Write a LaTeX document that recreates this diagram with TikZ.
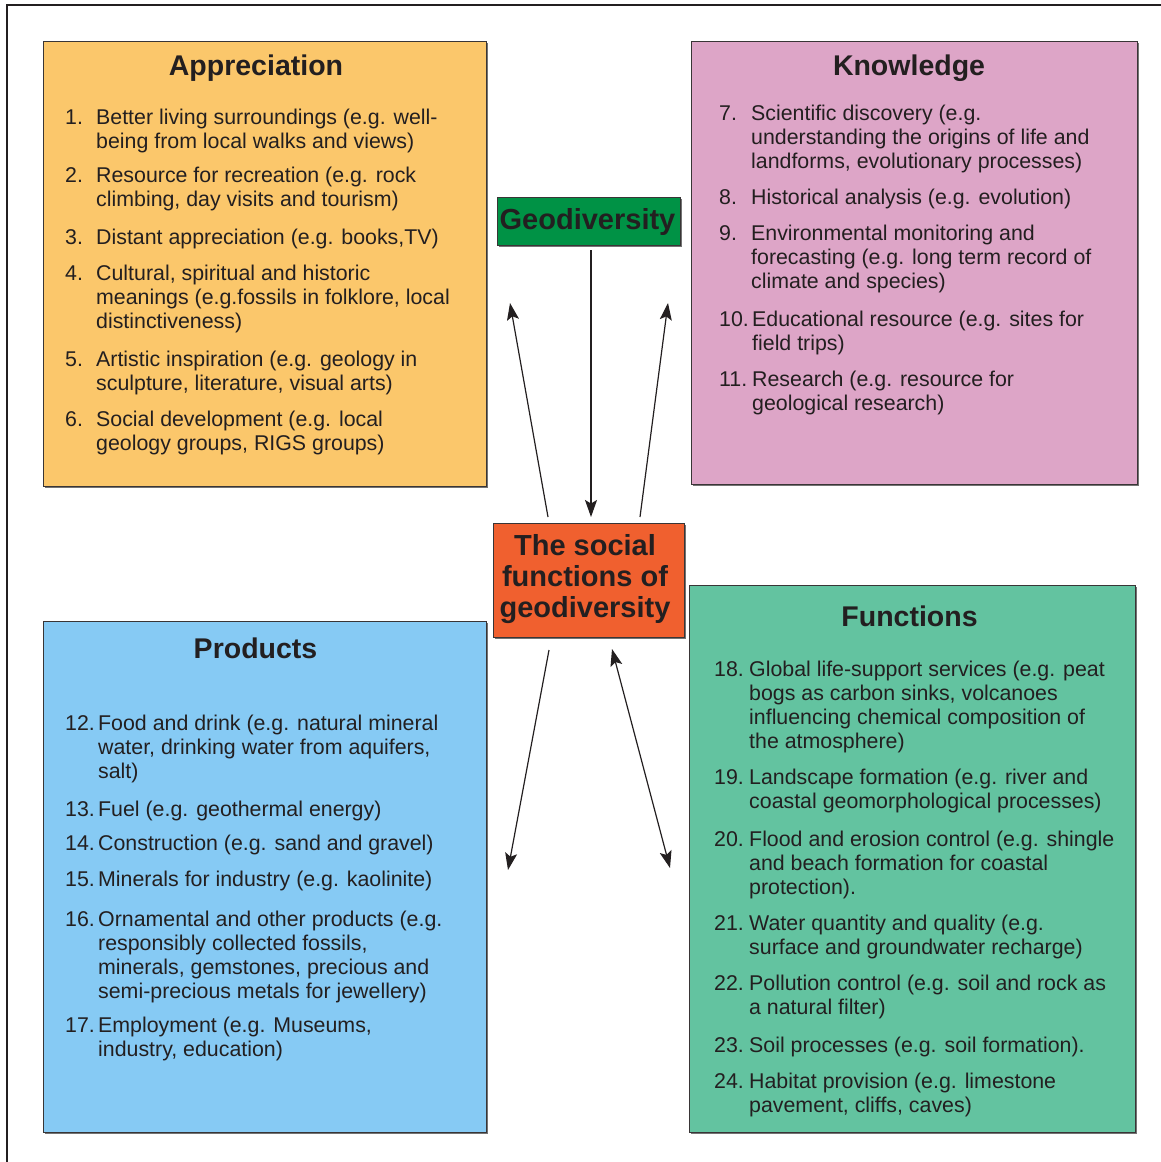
\documentclass[tikz,border=0pt]{standalone}
\usepackage{fontspec}
\setmainfont{Liberation Sans}
\usetikzlibrary{arrows.meta}
\definecolor{cappr}{RGB}{251,199,107}
\definecolor{cknow}{RGB}{221,165,199}
\definecolor{cprod}{RGB}{134,202,244}
\definecolor{cfunc}{RGB}{99,195,160}
\definecolor{cgeo}{RGB}{0,146,69}
\definecolor{csoc}{RGB}{240,96,47}
\definecolor{ink}{RGB}{35,31,32}
\newcommand\bodyf{\fontsize{21.35}{24.3}\selectfont}
\newcommand\titlef{\fontsize{28.5}{32}\selectfont\bfseries}
\newcommand\centf{\fontsize{29}{31}\selectfont\bfseries}
\newcommand\ml[1]{\vtop{\halign{##\hfil\cr#1\crcr}}}
\newcommand\mcent[1]{\vtop{\halign{\hfil##\hfil\cr#1\crcr}}}
\begin{document}
\begin{tikzpicture}[x=1pt,y=-1pt,
  >={Stealth[length=17pt,width=12pt,inset=3.5pt]},
  panel/.style={draw=ink!90, line width=0.8pt, anchor=north west, inner sep=0pt},
  shadow/.style={fill=black!55, anchor=north west, inner sep=0pt},
  ttl/.style={anchor=base, inner sep=0pt, font=\titlef, text=ink},
  num/.style={anchor=base west, inner sep=0pt, font=\bodyf, text=ink},
  itxt/.style={anchor=base west, inner sep=0pt, font=\bodyf, text=ink},
  arr/.style={draw=ink, line width=1.2pt, ->},
  darr/.style={draw=ink, line width=1.2pt, <->}
]
\useasboundingbox (0,0) rectangle (1161,1162);
% frame
\coordinate (fa) at (7,1162);
\coordinate (fb) at (7,5);
\coordinate (fc) at (1161,5);
\draw[ink, line width=1.3pt] (fa) -- (fb) -- (fc);

% shadows
\node[shadow, minimum width=443pt, minimum height=445pt] (apps) at (45,43) {};
\node[shadow, minimum width=446pt, minimum height=443pt] (knos) at (693,43) {};
\node[shadow, minimum width=443pt, minimum height=511pt] (pros) at (45,623) {};
\node[shadow, minimum width=446pt, minimum height=547pt] (funs) at (691,587) {};
\node[shadow, minimum width=183pt, minimum height=48pt] (geos) at (499,199) {};
\node[shadow, minimum width=191pt, minimum height=114pt] (socs) at (495,525) {};

% panels
\node[panel, fill=cappr, minimum width=443pt, minimum height=445pt] (appr) at (43,41) {};
\node[panel, fill=cknow, minimum width=446pt, minimum height=443pt] (know) at (691,41) {};
\node[panel, fill=cprod, minimum width=443pt, minimum height=511pt] (prod) at (43,621) {};
\node[panel, fill=cfunc, minimum width=446pt, minimum height=547pt] (func) at (689,585) {};
\node[panel, fill=cgeo, minimum width=183pt, minimum height=48pt] (geo) at (497,197) {};
\node[panel, fill=csoc, minimum width=191pt, minimum height=114pt] (soc) at (493,523) {};

% central texts
\node[anchor=base, inner sep=0pt, font=\centf, text=ink] (geot) at (587.5,229) {Geodiversity};
\node[anchor=base, inner sep=0pt, font=\centf, text=ink] (soct) at (585,555) {\mcent{The social\cr functions of\cr geodiversity}};

% titles
\node[ttl] (applt) at (256,75) {Appreciation};
\node[ttl] (knowt) at (909,75) {Knowledge};
\node[ttl] (prodt) at (255.5,658) {Products};
\node[ttl] (funct) at (909.5,626) {Functions};

% Appreciation items
\node[num] (n1) at (65,124) {1.};
\node[itxt] (t1) at (96,124) {\ml{Better living surroundings (e.g. well-\cr being from local walks and views)}};
\node[num] (n2) at (65,182) {2.};
\node[itxt] (t2) at (96,182) {\ml{Resource for recreation (e.g. rock\cr climbing, day visits and tourism)}};
\node[num] (n3) at (65,244) {3.};
\node[itxt] (t3) at (96,244) {Distant appreciation (e.g. books,TV)};
\node[num] (n4) at (65,280) {4.};
\node[itxt] (t4) at (96,280) {\ml{Cultural, spiritual and historic\cr meanings (e.g.fossils in folklore, local\cr distinctiveness)}};
\node[num] (n5) at (65,366) {5.};
\node[itxt] (t5) at (96,366) {\ml{Artistic inspiration (e.g. geology in\cr sculpture, literature, visual arts)}};
\node[num] (n6) at (65,426) {6.};
\node[itxt] (t6) at (96,426) {\ml{Social development (e.g. local\cr geology groups, RIGS groups)}};

% Knowledge items
\node[num] (n7) at (719,120) {7.};
\node[itxt] (t7) at (751,120) {\ml{Scientific discovery (e.g.\cr understanding the origins of life and\cr landforms, evolutionary processes)}};
\node[num] (n8) at (719,204) {8.};
\node[itxt] (t8) at (751,204) {Historical analysis (e.g. evolution)};
\node[num] (n9) at (719,240) {9.};
\node[itxt] (t9) at (751,240) {\ml{Environmental monitoring and\cr forecasting (e.g. long term record of\cr climate and species)}};
\node[num] (n10) at (719,326) {10.};
\node[itxt] (t10) at (752,326) {\ml{Educational resource (e.g. sites for\cr field trips)}};
\node[num] (n11) at (719,386) {11.};
\node[itxt] (t11) at (752,386) {\ml{Research (e.g. resource for\cr geological research)}};

% Products items
\node[num] (n12) at (65,730) {12.};
\node[itxt] (t12) at (98,730) {\ml{Food and drink (e.g. natural mineral\cr water, drinking water from aquifers,\cr salt)}};
\node[num] (n13) at (65,816) {13.};
\node[itxt] (t13) at (98,816) {Fuel (e.g. geothermal energy)};
\node[num] (n14) at (65,850) {14.};
\node[itxt] (t14) at (98,850) {Construction (e.g. sand and gravel)};
\node[num] (n15) at (65,886) {15.};
\node[itxt] (t15) at (98,886) {Minerals for industry (e.g. kaolinite)};
\node[num] (n16) at (65,926) {16.};
\node[itxt] (t16) at (98,926) {\ml{Ornamental and other products (e.g.\cr responsibly collected fossils,\cr minerals, gemstones, precious and\cr semi-precious metals for jewellery)}};
\node[num] (n17) at (65,1032) {17.};
\node[itxt] (t17) at (98,1032) {\ml{Employment (e.g. Museums,\cr industry, education)}};

% Functions items
\node[num] (n18) at (714,676) {18.};
\node[itxt] (t18) at (749,676) {\ml{Global life-support services (e.g. peat\cr bogs as carbon sinks, volcanoes\cr influencing chemical composition of\cr the atmosphere)}};
\node[num] (n19) at (714,784) {19.};
\node[itxt] (t19) at (749,784) {\ml{Landscape formation (e.g. river and\cr coastal geomorphological processes)}};
\node[num] (n20) at (714,846) {20.};
\node[itxt] (t20) at (749,846) {\ml{Flood and erosion control (e.g. shingle\cr and beach formation for coastal\cr protection).}};
\node[num] (n21) at (714,930) {21.};
\node[itxt] (t21) at (749,930) {\ml{Water quantity and quality (e.g.\cr surface and groundwater recharge)}};
\node[num] (n22) at (714,990) {22.};
\node[itxt] (t22) at (749,990) {\ml{Pollution control (e.g. soil and rock as\cr a natural filter)}};
\node[num] (n23) at (714,1052) {23.};
\node[itxt] (t23) at (749,1052) {Soil processes (e.g. soil formation).};
\node[num] (n24) at (714,1088) {24.};
\node[itxt] (t24) at (749,1088) {\ml{Habitat provision (e.g. limestone\cr pavement, cliffs, caves)}};

% arrow end points
\coordinate (d1) at (591,250);  \coordinate (d2) at (591,517);
\coordinate (ul1) at (548,517); \coordinate (ul2) at (510,303);
\coordinate (ur1) at (640,517); \coordinate (ur2) at (668,303);
\coordinate (bl1) at (549,650); \coordinate (bl2) at (508,870);
\coordinate (br1) at (612,649); \coordinate (br2) at (670,868);

\draw[arr] (d1) -- (d2);
\draw[arr] (ul1) -- (ul2);
\draw[arr] (ur1) -- (ur2);
\draw[arr] (bl1) -- (bl2);
\draw[darr] (br1) -- (br2);
\end{tikzpicture}
\end{document}
